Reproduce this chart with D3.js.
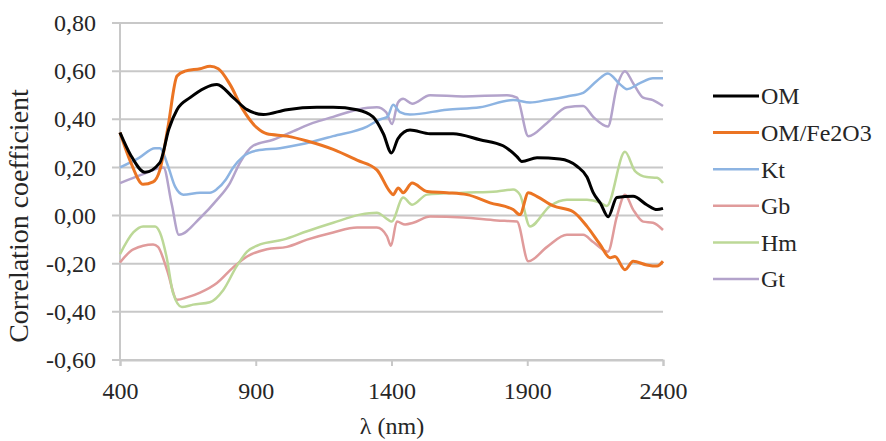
<!DOCTYPE html>
<html><head><meta charset="utf-8">
<script src="https://cdn.jsdelivr.net/npm/d3@7/dist/d3.min.js"></script>
<style>body{margin:0;background:#fff}svg text{font-family:"Liberation Serif","Times New Roman",serif;fill:#262626}</style>
</head><body><svg id="c" width="886" height="441"></svg>
<script>
const seriesNames = ["OM","OM/Fe2O3","Kt","Gb","Hm","Gt"];
const seriesColors = ["#000000","#EB7423","#8DB4E2","#E09B9B","#BCD897","#B3A3CB"];
const yTicks = [-0.6,-0.4,-0.2,0,0.2,0.4,0.6,0.8];
const xTicks = [400,900,1400,1900,2400];

const omX = [400,440,492,547,580,610,658,757,817,868,928,1015,1125,1185,1273,1332,1370,1400,1424,1468,1542,1627,1726,1811,1862,1880,1936,2020,2083,2120,2143,2170,2198,2230,2290,2340,2378,2400];
const omY = [0.345,0.25,0.18,0.22,0.36,0.44,0.49,0.545,0.49,0.44,0.42,0.44,0.45,0.45,0.44,0.41,0.34,0.26,0.32,0.355,0.34,0.34,0.315,0.29,0.245,0.225,0.24,0.235,0.205,0.16,0.095,0.05,-0.005,0.075,0.08,0.045,0.025,0.03];

const ofX = [400,440,485,522,547,577,610,639,695,732,762,805,853,904,941,1015,1089,1185,1273,1346,1394,1406,1425,1443,1476,1531,1604,1678,1763,1848,1873,1904,1935,1996,2069,2120,2168,2205,2223,2260,2290,2340,2378,2400];
const ofY = [0.345,0.22,0.13,0.14,0.19,0.37,0.58,0.60,0.61,0.62,0.61,0.545,0.44,0.365,0.34,0.33,0.31,0.275,0.23,0.19,0.10,0.087,0.115,0.095,0.135,0.10,0.095,0.087,0.053,0.025,0.004,0.095,0.08,0.04,0.016,-0.045,-0.12,-0.175,-0.17,-0.225,-0.19,-0.205,-0.21,-0.19];

const ktX = [400,470,529,547,577,603,633,695,731,757,790,817,853,904,989,1063,1185,1310,1358,1385,1406,1431,1468,1604,1726,1848,1910,1973,2046,2106,2157,2197,2242,2267,2315,2363,2400];
const ktY = [0.20,0.24,0.28,0.28,0.205,0.12,0.087,0.095,0.095,0.11,0.15,0.20,0.245,0.27,0.28,0.295,0.33,0.37,0.40,0.41,0.46,0.43,0.42,0.44,0.45,0.48,0.47,0.48,0.495,0.51,0.56,0.59,0.545,0.525,0.55,0.57,0.57];

const gbX = [400,449,522,540,573,610,647,695,757,817,868,941,1015,1089,1185,1273,1346,1383,1398,1420,1450,1480,1542,1664,1788,1862,1904,1973,2046,2106,2143,2197,2230,2260,2290,2327,2363,2400];
const gbY = [-0.195,-0.14,-0.12,-0.13,-0.225,-0.35,-0.34,-0.32,-0.28,-0.215,-0.17,-0.14,-0.13,-0.10,-0.07,-0.05,-0.05,-0.085,-0.125,-0.025,-0.037,-0.03,-0.004,-0.008,-0.02,-0.025,-0.19,-0.13,-0.08,-0.08,-0.11,-0.15,-0.004,0.087,0.025,-0.025,-0.03,-0.06];

const hmX = [400,449,485,529,547,573,595,628,669,731,780,830,868,916,1001,1089,1185,1284,1346,1387,1400,1443,1476,1531,1664,1788,1848,1873,1910,1984,2046,2120,2168,2193,2260,2297,2340,2378,2400];
const hmY = [-0.16,-0.07,-0.045,-0.045,-0.07,-0.18,-0.32,-0.38,-0.37,-0.36,-0.31,-0.21,-0.15,-0.12,-0.10,-0.065,-0.03,0.004,0.012,-0.017,-0.025,0.075,0.045,0.087,0.095,0.10,0.108,0.087,-0.045,0.04,0.066,0.066,0.054,0.04,0.265,0.185,0.16,0.157,0.135];

const gtX = [400,480,560,590,617,695,757,805,842,890,964,1037,1111,1185,1273,1346,1380,1402,1424,1443,1476,1542,1664,1825,1862,1904,1973,2046,2106,2143,2197,2230,2260,2290,2327,2363,2400];
const gtY = [0.135,0.17,0.20,0.05,-0.08,-0.01,0.065,0.135,0.22,0.29,0.315,0.35,0.385,0.41,0.44,0.45,0.43,0.38,0.47,0.485,0.465,0.50,0.495,0.50,0.49,0.33,0.385,0.45,0.455,0.41,0.37,0.535,0.60,0.55,0.49,0.48,0.455];

const seriesX = [omX,ofX,ktX,gbX,hmX,gtX];
const seriesY = [omY,ofY,ktY,gbY,hmY,gtY];
const seriesW = [3,3,2.5,2.5,2.5,2.5];

const svg = d3.select("#c");
const x = d3.scaleLinear().domain([400,2400]).range([120,663]);
const y = d3.scaleLinear().domain([-0.6,0.8]).range([360,23]);
const fmt = v => d3.format(".2f")(v).replace(".",",").replace("−","-");

// gridlines
svg.append("g").selectAll("line").data(yTicks).join("line")
  .attr("x1",112).attr("x2",663).attr("y1",d=>y(d)).attr("y2",d=>y(d))
  .attr("stroke","#c8c8c8").attr("stroke-width",2);
// y axis line
svg.append("line").attr("x1",120).attr("x2",120).attr("y1",y(0.8)).attr("y2",y(-0.6)).attr("stroke","#c8c8c8").attr("stroke-width",2);
// x axis
const xa = svg.append("g").attr("transform","translate(0,360)")
  .call(d3.axisBottom(x).tickValues(xTicks).tickSize(6).tickPadding(16).tickFormat(d3.format("d")));
xa.select(".domain").attr("stroke","#c8c8c8").attr("stroke-width",2);
xa.selectAll(".tick line").attr("stroke","#c8c8c8").attr("stroke-width",2);
xa.selectAll("text").attr("font-size",24).attr("fill","#262626").attr("font-family","Liberation Serif");
// y labels
const ya = svg.append("g").attr("transform","translate(112,0)")
  .call(d3.axisLeft(y).tickValues(yTicks).tickSize(0).tickPadding(16).tickFormat(fmt));
ya.select(".domain").remove();
ya.selectAll("text").attr("font-size",24).attr("fill","#262626").attr("font-family","Liberation Serif");

// lines
const line = d3.line().curve(d3.curveMonotoneX);
const order = [3,4,5,2,1,0];
order.forEach(i=>{
  const pts = seriesX[i].map((v,k)=>[x(v),y(seriesY[i][k])]);
  svg.append("path").attr("d",line(pts)).attr("fill","none")
    .attr("stroke",seriesColors[i]).attr("stroke-width",seriesW[i]).attr("stroke-linejoin","round");
});

// legend
const lg = svg.append("g");
seriesNames.forEach((n,i)=>{
  const yy = 96 + i*36.6;
  lg.append("line").attr("x1",713).attr("x2",759).attr("y1",yy).attr("y2",yy)
    .attr("stroke",seriesColors[i]).attr("stroke-width",seriesW[i]);
  lg.append("text").attr("x",761).attr("y",yy).attr("dy","0.35em").attr("font-size",24).text(n);
});

// titles
svg.append("text").attr("x",392).attr("y",434).attr("text-anchor","middle").attr("font-size",24).text("λ (nm)");
svg.append("text").attr("transform","translate(28,216) rotate(-90)").attr("text-anchor","middle").attr("font-size",28).text("Correlation coefficient");
</script></body></html>
